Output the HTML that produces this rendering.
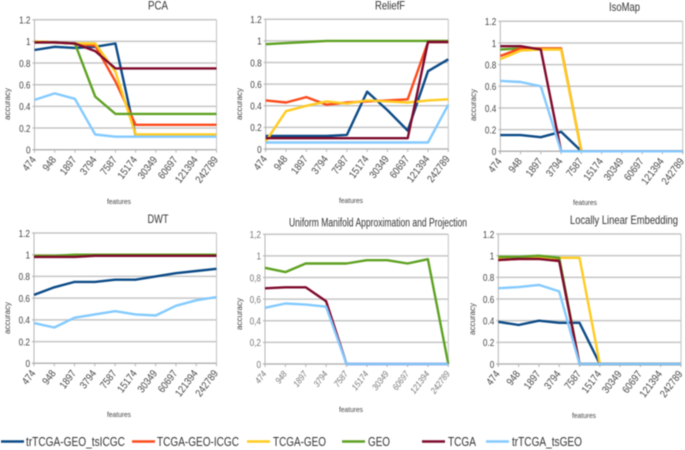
<!DOCTYPE html>
<html>
<head>
<meta charset="utf-8">
<style>
html,body{margin:0;padding:0;background:#fff;width:685px;height:450px;overflow:hidden}
svg{display:block;filter:blur(0.5px)}
text{font-family:"Liberation Sans",sans-serif}
</style>
</head>
<body>
<svg id="chart" width="685" height="450" viewBox="0 0 685 450" xmlns="http://www.w3.org/2000/svg"></svg>
<script>
const features = ["474","948","1897","3794","7587","15174","30349","60697","121394","242789"];
const yTicks = [0,0.2,0.4,0.6,0.8,1,1.2];
const seriesNames = ["trTCGA-GEO_tsICGC","TCGA-GEO-ICGC","TCGA-GEO","GEO","TCGA","trTCGA_tsGEO"];

const pcaNavy = [.92,.95,.94,.95,.98,.13,.13,.13,.13,.13];
const pcaRed = [1,.99,.98,.96,.63,.23,.23,.23,.23,.23];
const pcaYellow = [1,.99,.98,.98,.72,.14,.14,.14,.14,.14];
const pcaGreen = [.99,.99,.98,.49,.33,.33,.33,.33,.33,.33];
const pcaMaroon = [.99,.99,.98,.91,.75,.75,.75,.75,.75,.75];
const pcaLight = [.46,.52,.47,.14,.12,.12,.12,.12,.12,.12];

const reliefNavy = [.12,.12,.12,.12,.13,.53,.36,.17,.72,.83];
const reliefRed = [.45,.43,.48,.41,.43,.44,.45,.46,.99,.99];
const reliefYellow = [.07,.35,.40,.44,.42,.45,.44,.43,.45,.46];
const reliefGreen = [.97,.98,.99,1,1,1,1,1,1,1];
const reliefMaroon = [.10,.10,.10,.10,.10,.10,.10,.10,.99,.99];
const reliefLight = [.06,.06,.06,.06,.06,.06,.06,.06,.06,.41];

const isoNavy = [.15,.15,.13,.18,0,0,0,0,0,0];
const isoRed = [.88,.95,.95,.95,0,0,0,0,0,0];
const isoYellow = [.85,.93,.94,.94,0,0,0,0,0,0];
const isoGreen = [.94,.95,.95,.95,0,0,0,0,0,0];
const isoMaroon = [.97,.97,.94,0,0,0,0,0,0,0];
const isoLight = [.65,.64,.60,0,0,0,0,0,0,0];

const dwtNavy = [.63,.70,.75,.75,.77,.77,.80,.83,.85,.87];
const dwtRed = [.99,.99,.99,.99,.99,.99,.99,.99,.99,.99];
const dwtYellow = [.99,.99,.99,.99,.99,.99,.99,.99,.99,.99];
const dwtGreen = [.99,.99,1,1,1,1,1,1,1,1];
const dwtMaroon = [.98,.98,.98,.99,.99,.99,.99,.99,.99,.99];
const dwtLight = [.37,.33,.42,.45,.48,.45,.44,.53,.58,.61];

const umapNavy = [];
const umapRed = [];
const umapYellow = [];
const umapGreen = [.89,.85,.93,.93,.93,.96,.96,.93,.97,0];
const umapMaroon = [.70,.71,.71,.58,0,0,0,0,0,0];
const umapLight = [.52,.56,.55,.53,0,0,0,0,0,0];

const lleNavy = [.39,.36,.40,.38,.38,0,0,0,0,0];
const lleRed = [.96,.97,.97,.96,0,0,0,0,0,0];
const lleYellow = [.98,.98,.98,.98,.98,0,0,0,0,0];
const lleGreen = [.99,.99,1,.98,0,0,0,0,0,0];
const lleMaroon = [.96,.97,.97,.95,0,0,0,0,0,0];
const lleLight = [.70,.71,.73,.67,0,0,0,0,0,0];

const colors = ["#0b4a86","#fb4a1c","#ffcb1f","#5ea121","#7e0a2c","#83caff"];
const NS = "http://www.w3.org/2000/svg";
const root = document.getElementById("chart");

function make(parent, tag, attrs, txt){
  const el = document.createElementNS(NS, tag);
  for (const k in attrs) el.setAttribute(k, attrs[k]);
  if (txt !== undefined) el.textContent = txt;
  parent.appendChild(el);
  return el;
}
function fit(el, len){
  el.setAttribute("textLength", len);
  el.setAttribute("lengthAdjust", "spacingAndGlyphs");
}
function squeeze(el, factor){
  fit(el, (el.getComputedTextLength() * factor).toFixed(2));
}

function drawPanel(p){
  const g = make(root, "g", {});
  
  
  const xs = i => p.x0 + (p.x1 - p.x0) * i / (features.length - 1);
  const ys = v => p.y0 + (p.y1 - p.y0) * v / 1.2;
  const tickCol = p.light ? "#777" : "#444";

  const title = make(g, "text", {x:p.tx, y:p.ty, "text-anchor":"middle", "font-size":p.ts, fill:"#333"}, p.title);
  fit(title, p.tw);
  
  

  yTicks.forEach(t => {
    const grid = make(g, "line", {x1:p.x0-2, x2:p.x1, y1:ys(t), y2:ys(t), stroke:t===0?"#b5b5b5":"#c6c6c6", "stroke-width":1.5});
    
    
    let s = String(t);
    if (p.comma) s = s.replace(".", ",");
    const lab = make(g, "text", {x:p.x0-4, y:ys(t)+3.8, "text-anchor":"end", "font-size":10.5, fill:tickCol}, s);
    squeeze(lab, 0.78);
    
    
  });

  const rightEdge = make(g, "line", {x1:p.x1, x2:p.x1, y1:p.y1, y2:p.y0+2, stroke:"#c4c4c4", "stroke-width":1});
  
  
  const leftEdge = make(g, "line", {x1:p.x0, x2:p.x0, y1:p.y1, y2:p.y0+2, stroke:"#b5b5b5", "stroke-width":1});
  
  

  features.forEach((f, i) => {
    const tick = make(g, "line", {x1:xs(i), x2:xs(i), y1:p.y0, y2:p.y0+3, stroke:"#b5b5b5", "stroke-width":1});
    
    
    const lx = xs(i) + 2, ly = p.y0 + 10;
    const lab = make(g, "text", {x:lx, y:ly, "text-anchor":"end", "font-size":p.light?9:10.5, fill:tickCol,
      "font-style":p.light?"italic":"normal", transform:`rotate(-53 ${lx} ${ly})`}, f);
    squeeze(lab, p.light ? 0.85 : 0.86);
    
    
  });

  const ya = make(g, "text", {x:0, y:0, "text-anchor":"middle", "font-size":8, fill:"#444",
    transform:`translate(${p.yax} ${p.yac}) rotate(-90)`}, "accuracy");
  
  
  const xa = make(g, "text", {x:p.xax, y:p.xay, "text-anchor":"middle", "font-size":7.5, fill:"#444"}, "features");
  fit(xa, 24);
  
  

  const order = p.order || [0,1,2,3,4,5];
  order.forEach(si => {
    const vals = p.series[si];
    if (!vals.length) return;
    const pts = vals.map((v, i) => xs(i).toFixed(1) + "," + ys(v).toFixed(1)).join(" ");
    const line = make(g, "polyline", {points:pts, fill:"none", stroke:colors[si], "stroke-width":2.4, "stroke-linejoin":"round"});
    
    
  });
}

drawPanel({title:"PCA",x0:34.5,x1:216.5,y0:149.7,y1:19.7,tx:158,ty:9.5,ts:12,tw:20,yax:10,yac:104,xax:119,xay:204,
  series:[pcaNavy,pcaRed,pcaYellow,pcaGreen,pcaMaroon,pcaLight]});
drawPanel({title:"ReliefF",x0:265.7,x1:448.3,y0:149,y1:19.3,tx:390,ty:9.5,ts:12,tw:30,yax:242,yac:104,xax:351,xay:203,
  series:[reliefNavy,reliefRed,reliefYellow,reliefGreen,reliefMaroon,reliefLight]});
drawPanel({title:"IsoMap",x0:500.3,x1:682.7,y0:151.3,y1:21.3,tx:624.5,ty:11,ts:12,tw:31,yax:476,yac:105,xax:585,xay:205,
  order:[0,3,1,2,4,5],
  series:[isoNavy,isoRed,isoYellow,isoGreen,isoMaroon,isoLight]});
drawPanel({title:"DWT",x0:34,x1:216.5,y0:363.3,y1:233,tx:158,ty:223,ts:12,tw:21,yax:10,yac:318,xax:119,xay:417,
  series:[dwtNavy,dwtRed,dwtYellow,dwtGreen,dwtMaroon,dwtLight]});
drawPanel({title:"Uniform Manifold Approximation and Projection",x0:265,x1:448.3,y0:364,y1:234.3,tx:378,ty:226.5,ts:11.5,tw:178,yax:242,yac:314,xax:351,xay:412,light:true,comma:true,
  series:[umapNavy,umapRed,umapYellow,umapGreen,umapMaroon,umapLight]});
drawPanel({title:"Locally Linear Embedding",x0:498.3,x1:681,y0:364,y1:234,tx:624,ty:224,ts:12,tw:108,yax:475,yac:319,xax:584,xay:418,
  series:[lleNavy,lleRed,lleYellow,lleGreen,lleMaroon,lleLight]});

const legendLineStart = [1,132,247,342,422,486];
const legendTextStart = [26,157,273,368,448,512];
const legendTextWidth = [99,82,53,22,28,70];
seriesNames.forEach((n, i) => {
  const g = make(root, "g", {});
  
  
  make(g, "line", {x1:legendLineStart[i], x2:legendLineStart[i]+23, y1:441.5, y2:441.5, stroke:colors[i], "stroke-width":2.4});
  const t = make(g, "text", {x:legendTextStart[i], y:446, "font-size":12.5, fill:"#333"}, n);
  fit(t, legendTextWidth[i]);
});
</script>
</body>
</html>
